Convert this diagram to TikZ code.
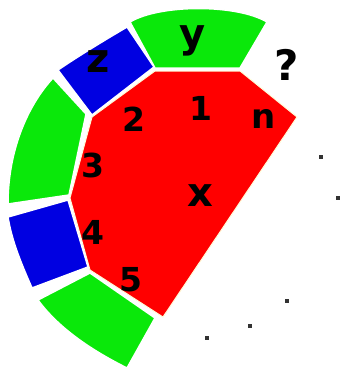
\documentclass[tikz,border=0pt]{standalone}
\usepackage{fontspec}
\setmainfont{DejaVu Sans}
\definecolor{gr}{RGB}{10,232,10}
\definecolor{bl}{RGB}{0,0,225}
\definecolor{rd}{RGB}{255,0,0}
\definecolor{dotc}{RGB}{50,50,50}
\begin{document}
\begin{tikzpicture}[x=1pt,y=-1pt,
  tile/.style={draw=white,line width=1.5pt,line join=miter},
  lab/.style={anchor=base,inner sep=0pt,text=black,font=\bfseries},
  pt/.style={fill=dotc,minimum size=3.8pt,inner sep=0pt,draw=none}]
\useasboundingbox (0,0) rectangle (340,370);
% red region
\filldraw[tile,fill=rd,draw=white!85!yellow,line width=1pt] (155,71) -- (240,71) -- (297,117) -- (163,317) -- (90,270) -- (70,198) -- (92,117) -- cycle;
% green y
\filldraw[tile,fill=gr] (130,22) .. controls (160,4) and (237,4) .. (267,22) -- (240,68) -- (155,68) -- cycle;
% blue z
\filldraw[tile,fill=bl] (58,70) .. controls (80,55) and (105,40) .. (127,27) -- (154,67) -- (92,115) -- cycle;
% green 3
\filldraw[tile,fill=gr] (53,78) -- (86,114) -- (69,195) -- (8,204) .. controls (8,150) and (28,105) .. (53,78);
% blue 4
\filldraw[tile,fill=bl] (8,217) -- (68,200) -- (88,267) -- (32,288) .. controls (22,265) and (12,242) .. (8,217);
% green 5
\filldraw[tile,fill=gr] (38,300) -- (90,273) -- (155,318) -- (127,368) .. controls (95,352) and (60,330) .. (38,300);
% labels
\node[lab,font=\bfseries\fontsize{40}{40}\selectfont] (ly) at (193,47) {y};
\node[lab,font=\bfseries\fontsize{40}{40}\selectfont] (lz) at (98,72) {z};
\node[lab,font=\bfseries\fontsize{42}{42}\selectfont] (lq) at (287,80) {?};
\node[lab,font=\bfseries\fontsize{33}{33}\selectfont] (l1) at (201,120) {1};
\node[lab,font=\bfseries\fontsize{33}{33}\selectfont] (l2) at (134,131) {2};
\node[lab,font=\bfseries\fontsize{34}{34}\selectfont] (ln) at (264,128) {n};
\node[lab,font=\bfseries\fontsize{33}{33}\selectfont] (l3) at (93,177) {3};
\node[lab,font=\bfseries\fontsize{40}{40}\selectfont] (lx) at (200,206) {x};
\node[lab,font=\bfseries\fontsize{33}{33}\selectfont] (l4) at (93,244) {4};
\node[lab,font=\bfseries\fontsize{33}{33}\selectfont] (l5) at (131,291) {5};
% dots
\node[pt] (d1) at (321,157) {};
\node[pt] (d2) at (338,198) {};
\node[pt] (d3) at (287,301) {};
\node[pt] (d4) at (250,326) {};
\node[pt] (d5) at (207,338) {};
\end{tikzpicture}
\end{document}
